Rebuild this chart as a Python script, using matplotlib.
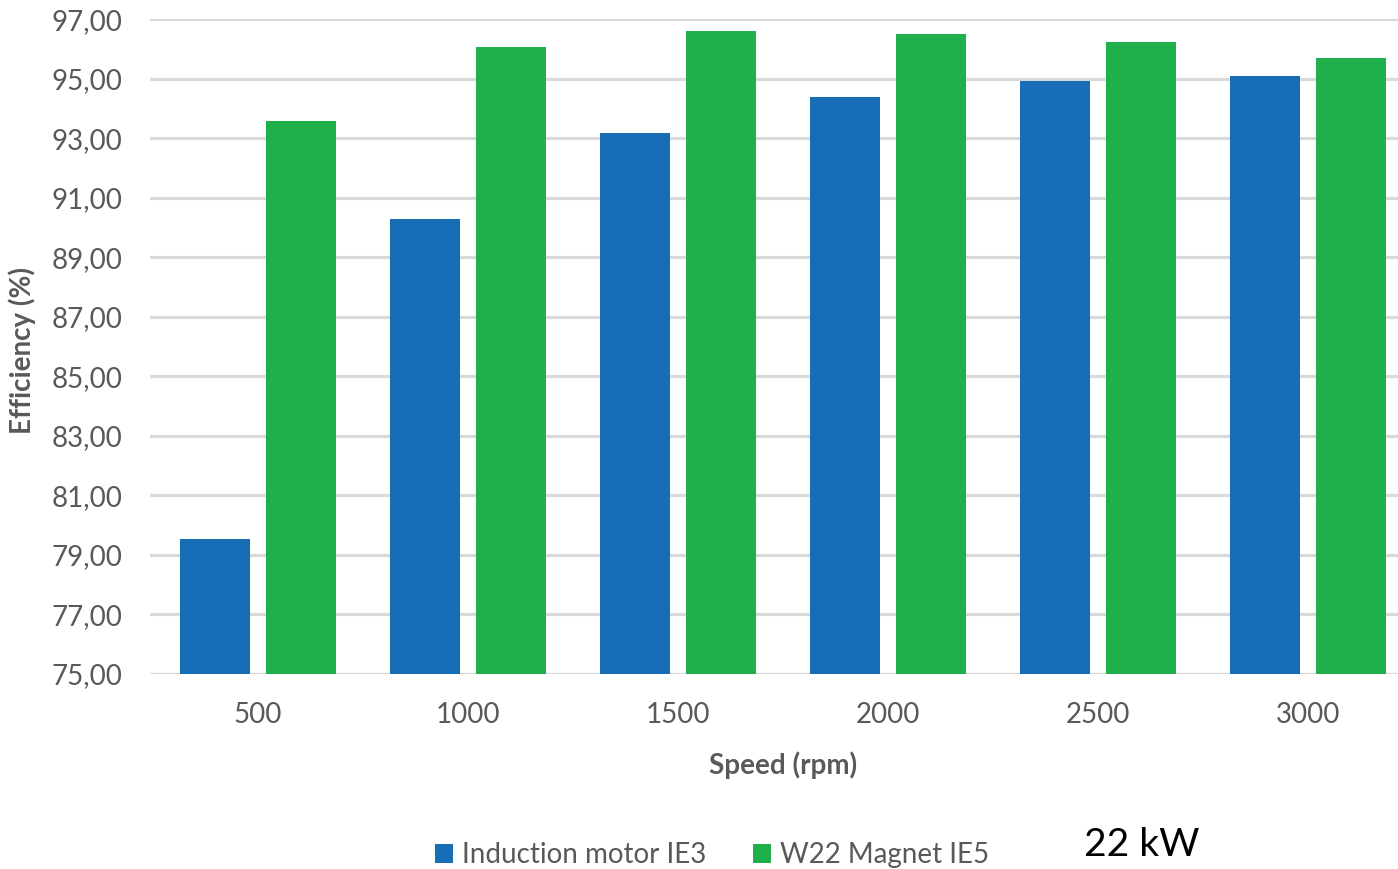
import matplotlib
matplotlib.use("Agg")
import matplotlib.pyplot as plt
from matplotlib.patches import Patch
import numpy as np

# Efficiency of two 22 kW motors across operating speed
speeds = ["500", "1000", "1500", "2000", "2500", "3000"]
induction_ie3 = [79.54, 90.28, 93.17, 94.40, 94.94, 95.09]
magnet_ie5 = [93.59, 96.07, 96.60, 96.51, 96.24, 95.71]
series_names = ["Induction motor IE3", "W22 Magnet IE5"]
y_ticks = [75, 77, 79, 81, 83, 85, 87, 89, 91, 93, 95, 97]

BLUE = "#176db6"
GREEN = "#1fb04c"
GRID = "#d9d9d9"
TEXT = "#595959"
FONT = "Lato"

fig = plt.figure(figsize=(13.98, 8.69), dpi=100)
ax = fig.add_axes([150 / 1398, 1 - 673.8 / 869, 1248 / 1398, (673.8 - 19.3) / 869])

x = np.arange(len(speeds))
width = 0.333
offset = 0.205
ax.bar(x - offset, induction_ie3, width, bottom=0, color=BLUE, zorder=3)
ax.bar(x + offset, magnet_ie5, width, bottom=0, color=GREEN, zorder=3)

ax.set_ylim(75, 97)
ax.set_xlim(-0.514, 5.43)
ax.set_yticks(y_ticks)
ax.set_yticklabels([f"{v:.2f}".replace(".", ",") for v in y_ticks],
                   fontsize=20, color=TEXT, fontfamily=FONT)
ax.set_xticks(x)
ax.set_xticklabels(speeds, fontsize=20, color=TEXT, fontfamily=FONT)
ax.tick_params(axis="y", length=0, pad=20)
ax.tick_params(axis="x", length=0, pad=20)

ax.yaxis.grid(True, color=GRID, linewidth=2.3, zorder=0)
ax.set_axisbelow(True)
for s in ax.spines.values():
    s.set_visible(False)

fig.text(22 / 1398, 1 - 351 / 869, "Efficiency (%)", rotation=90, ha="center",
         va="center", fontsize=20, fontweight="bold", color=TEXT, fontfamily=FONT)
fig.text(783 / 1398, 1 - 765 / 869, "Speed (rpm)", ha="center", va="center",
         fontsize=20, fontweight="bold", color=TEXT, fontfamily=FONT)

handles = [Patch(facecolor=BLUE, edgecolor="none"), Patch(facecolor=GREEN, edgecolor="none")]
fig.legend(handles, series_names, loc="center", bbox_to_anchor=(712 / 1398, 1 - 855 / 869),
           ncol=2, frameon=False, handlelength=0.65, handleheight=0.65,
           handletextpad=0.3, columnspacing=1.7, borderpad=0,
           prop={"family": FONT, "size": 20}, labelcolor=TEXT)

fig.text(1142 / 1398, 1 - 845 / 869, "22 kW", ha="center", va="center",
         fontsize=28, color="black", fontfamily=FONT)

fig.savefig("out.png", dpi=100, facecolor="white")
